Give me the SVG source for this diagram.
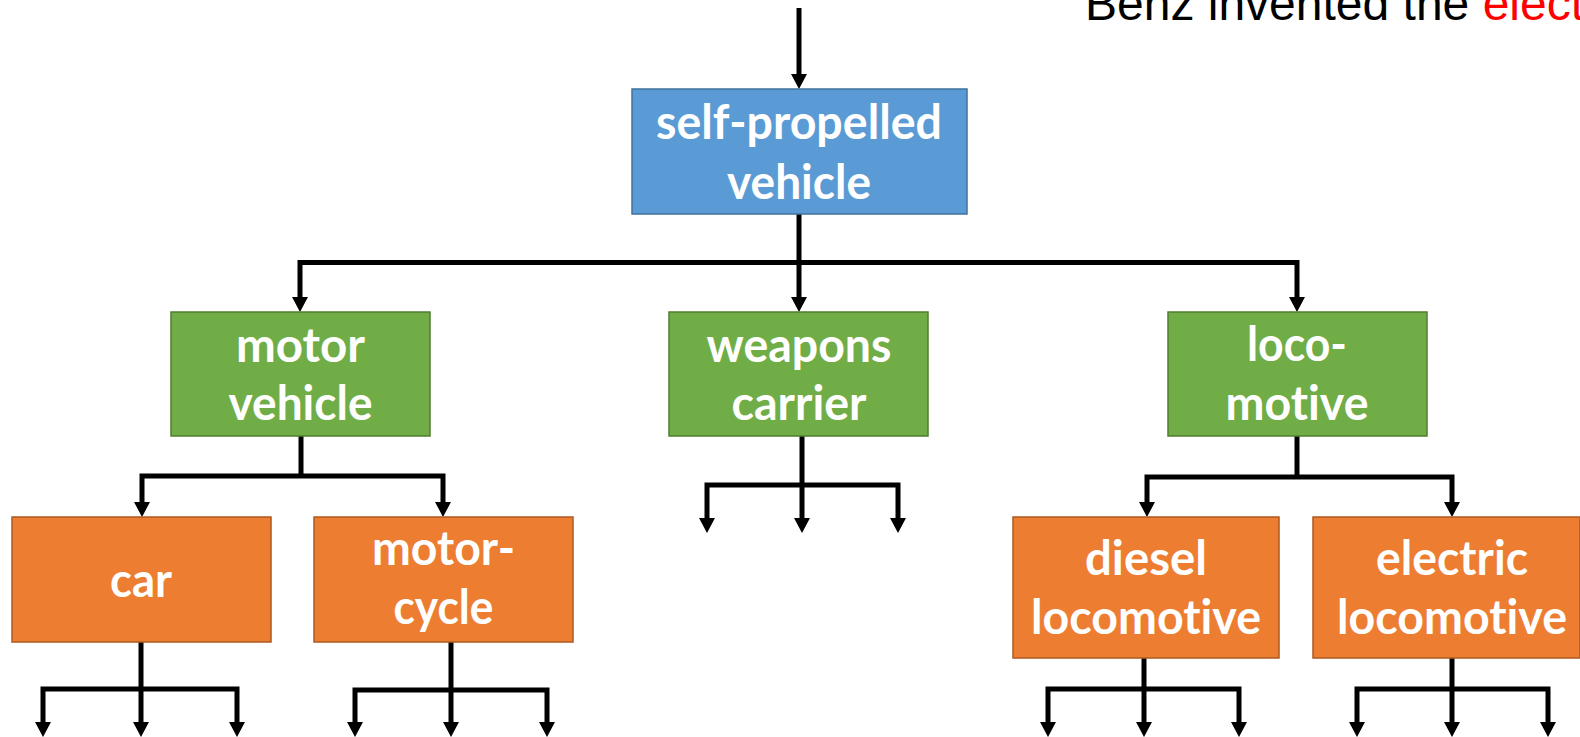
<svg xmlns="http://www.w3.org/2000/svg" width="1580" height="737" viewBox="0 0 1580 737">
<style>
.blue{fill:#5B9BD5;stroke:#41719C;stroke-width:1.5}
.green{fill:#70AD47;stroke:#507E32;stroke-width:1.5}
.orange{fill:#ED7D31;stroke:#AE5A21;stroke-width:1.5}
.lbl{font-family:Lato,"Open Sans",sans-serif;font-weight:bold;font-size:48px;fill:#FFFFFF;text-anchor:middle;font-variant-ligatures:none;font-feature-settings:"liga" 0,"clig" 0}
.conn{fill:none;stroke:#000000;stroke-width:5;stroke-linejoin:miter;stroke-linecap:butt}
.head{font-family:"Liberation Sans",Arial,sans-serif;font-size:48px}
</style>
<defs>
<marker id="ah" markerUnits="userSpaceOnUse" markerWidth="16" markerHeight="16" viewBox="0 0 15 16" refX="0" refY="8" orient="auto">
<path d="M0,0 L15,8 L0,16 Z" fill="#000000"/>
</marker>
</defs>
<text class="head" x="1085" y="20"><tspan fill="#000000">Benz invented the </tspan><tspan fill="#FF0000">elect</tspan></text>
<g id="connectors">
<path class="conn" d="M799,8 V74" marker-end="url(#ah)"/>
<path class="conn" d="M799,214 V297" marker-end="url(#ah)"/>
<path class="conn" d="M799,262.5 H300 V297" marker-end="url(#ah)"/>
<path class="conn" d="M799,262.5 H1297 V297" marker-end="url(#ah)"/>
<path class="conn" d="M301,436 V476"/>
<path class="conn" d="M301,476 H142 V502" marker-end="url(#ah)"/>
<path class="conn" d="M301,476 H443 V502" marker-end="url(#ah)"/>
<path class="conn" d="M802,436 V518" marker-end="url(#ah)"/>
<path class="conn" d="M802,485 H707 V518" marker-end="url(#ah)"/>
<path class="conn" d="M802,485 H898 V518" marker-end="url(#ah)"/>
<path class="conn" d="M1297,436 V477"/>
<path class="conn" d="M1297,477 H1147 V502" marker-end="url(#ah)"/>
<path class="conn" d="M1297,477 H1452 V502" marker-end="url(#ah)"/>
<path class="conn" d="M141,642 V722" marker-end="url(#ah)"/>
<path class="conn" d="M141,689 H43 V722" marker-end="url(#ah)"/>
<path class="conn" d="M141,689 H237 V722" marker-end="url(#ah)"/>
<path class="conn" d="M451,642 V722" marker-end="url(#ah)"/>
<path class="conn" d="M451,690 H355 V722" marker-end="url(#ah)"/>
<path class="conn" d="M451,690 H547 V722" marker-end="url(#ah)"/>
<path class="conn" d="M1144,658 V722" marker-end="url(#ah)"/>
<path class="conn" d="M1144,689 H1048 V722" marker-end="url(#ah)"/>
<path class="conn" d="M1144,689 H1239 V722" marker-end="url(#ah)"/>
<path class="conn" d="M1452,658 V722" marker-end="url(#ah)"/>
<path class="conn" d="M1452,689 H1357 V722" marker-end="url(#ah)"/>
<path class="conn" d="M1452,689 H1548 V722" marker-end="url(#ah)"/>
</g>
<g id="self-propelled-vehicle">
<rect class="blue" x="632" y="89" width="335" height="125"/>
<text class="lbl" x="799" y="138.5" textLength="286" lengthAdjust="spacingAndGlyphs">self-propelled</text>
<text class="lbl" x="799" y="198.5" textLength="144" lengthAdjust="spacingAndGlyphs">vehicle</text>
</g>
<g id="motor-vehicle">
<rect class="green" x="171" y="312" width="259" height="124"/>
<text class="lbl" x="300.5" y="362" textLength="129" lengthAdjust="spacingAndGlyphs">motor</text>
<text class="lbl" x="300.5" y="420" textLength="144" lengthAdjust="spacingAndGlyphs">vehicle</text>
</g>
<g id="weapons-carrier">
<rect class="green" x="669" y="312" width="259" height="124"/>
<text class="lbl" x="799" y="362" textLength="185" lengthAdjust="spacingAndGlyphs">weapons</text>
<text class="lbl" x="799" y="420" textLength="135" lengthAdjust="spacingAndGlyphs">carrier</text>
</g>
<g id="locomotive">
<rect class="green" x="1168" y="312" width="259" height="124"/>
<text class="lbl" x="1297" y="361" textLength="100" lengthAdjust="spacingAndGlyphs">loco-</text>
<text class="lbl" x="1297" y="420" textLength="143" lengthAdjust="spacingAndGlyphs">motive</text>
</g>
<g id="car">
<rect class="orange" x="12" y="517" width="259" height="125"/>
<text class="lbl" x="141" y="597" textLength="62" lengthAdjust="spacingAndGlyphs">car</text>
</g>
<g id="motor-cycle">
<rect class="orange" x="314" y="517" width="259" height="125"/>
<text class="lbl" x="443.5" y="565" textLength="143" lengthAdjust="spacingAndGlyphs">motor-</text>
<text class="lbl" x="443.5" y="624" textLength="100" lengthAdjust="spacingAndGlyphs">cycle</text>
</g>
<g id="diesel-locomotive">
<rect class="orange" x="1013" y="517" width="266" height="141"/>
<text class="lbl" x="1146" y="575" textLength="122" lengthAdjust="spacingAndGlyphs">diesel</text>
<text class="lbl" x="1146" y="633.5" textLength="230" lengthAdjust="spacingAndGlyphs">locomotive</text>
</g>
<g id="electric-locomotive">
<rect class="orange" x="1313" y="517" width="267" height="141"/>
<text class="lbl" x="1452" y="575" textLength="152" lengthAdjust="spacingAndGlyphs">electric</text>
<text class="lbl" x="1452" y="633.5" textLength="230" lengthAdjust="spacingAndGlyphs">locomotive</text>
</g>
</svg>
